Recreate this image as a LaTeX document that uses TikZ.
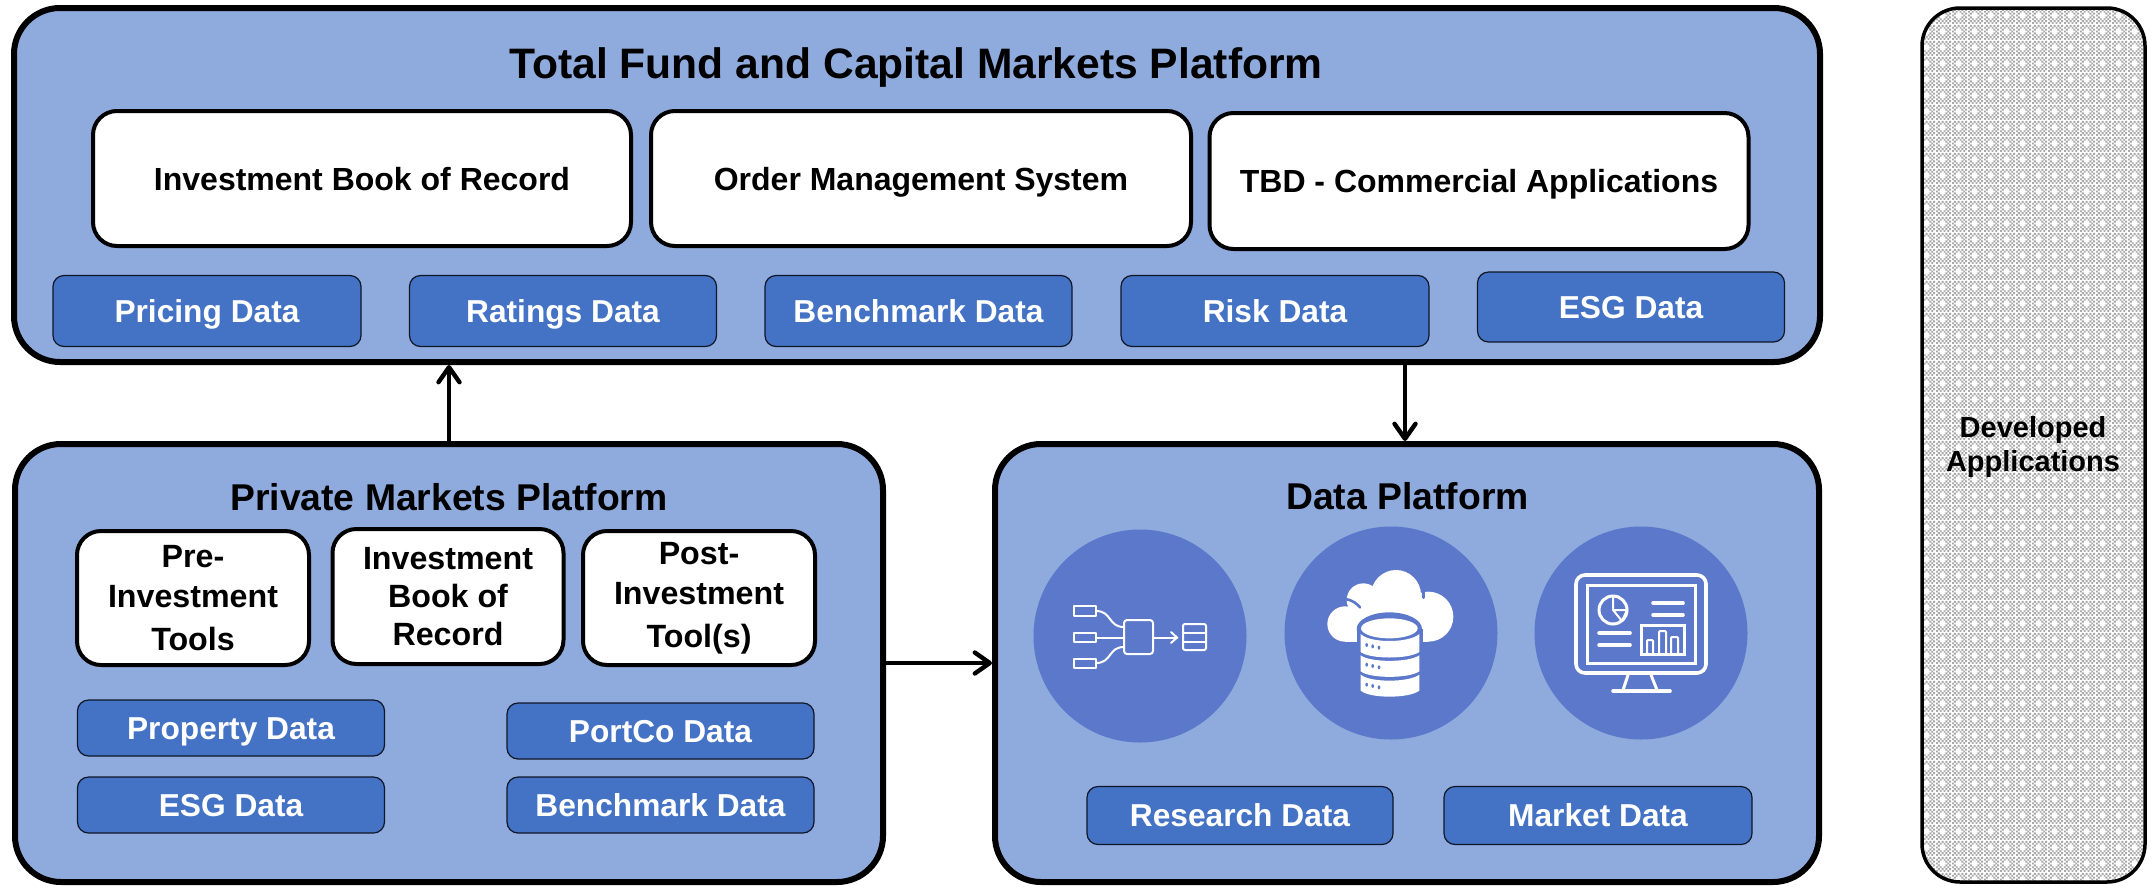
\documentclass[tikz,border=0pt]{standalone}
\usepackage{fontspec}
\setmainfont{Liberation Sans}
\usetikzlibrary{arrows.meta,patterns}
\definecolor{panelblue}{HTML}{8FAADC}
\definecolor{chipblue}{HTML}{4472C4}
\definecolor{discblue}{HTML}{5B78CB}
\pgfdeclarepatternformonly{fineweave}{\pgfpointorigin}{\pgfqpoint{16pt}{16pt}}{\pgfqpoint{16pt}{16pt}}{%
  \foreach \i in {0,...,7}{\foreach \j in {0,...,7}{%
    \pgfmathtruncatemacro{\keep}{(mod(\i+\j,2)==0) && !((\i==2&&\j==4)||(\i==4&&\j==4)||(\i==3&&\j==3)||(\i==3&&\j==5))}%
    \ifnum\keep=1\relax
      \pgfpathrectangle{\pgfqpoint{\numexpr2*\i\relax pt}{\numexpr2*\j\relax pt}}{\pgfqpoint{2pt}{2pt}}%
    \fi}}%
  \pgfusepath{fill}}
\tikzset{
  x=1pt,y=-1pt,
  panel/.style={draw=black,line width=6pt,fill=panelblue,rounded corners=46pt,outer sep=3pt},
  whitebox/.style={draw=black,line width=4pt,fill=white,rounded corners=24pt,align=center,outer sep=0pt,inner sep=0pt},
  whitewide/.style={whitebox,font=\fontsize{32}{38}\selectfont\bfseries,text height=23pt,text depth=0pt},
  whitetall/.style={whitebox,font=\fontsize{32.2}{38}\selectfont\bfseries},
  chip/.style={draw=black!80!chipblue,line width=1.2pt,fill=chipblue,rounded corners=11pt,text=white,outer sep=0pt,inner sep=0pt,
    font=\fontsize{31.7}{38}\selectfont\bfseries,text height=22.7pt,text depth=0pt},
  paneltitle/.style={font=\fontsize{37.3}{44}\selectfont\bfseries,text height=26.7pt,text depth=0pt,inner sep=0pt},
  flow/.style={draw=black,line width=4.4pt,-{Straight Barb[length=15pt,width=21pt,line width=4.4pt,round]}},
  disc/.style={fill=discblue,draw=none},
  icon/.style={draw=white,line width=2pt,fill=none,line cap=round},
  iconthick/.style={draw=white,line width=3pt,fill=none,line cap=round,line join=round},
}
\begin{document}
\begin{tikzpicture}
\useasboundingbox (0,0) rectangle (2152,887);
% panels
\node[panel,minimum width=1806pt,minimum height=354pt] (fund) at (917,185) {};
\node[panel,minimum width=868pt,minimum height=438pt] (private) at (449,663) {};
\node[panel,minimum width=824pt,minimum height=438pt] (data) at (1407,663) {};
\path[fill=white,rounded corners=38pt] (1922,8) rectangle (2145,882);
\path[pattern=fineweave,pattern color=black!33,rounded corners=38pt] (1922,8) rectangle (2145,882);
\draw[black,line width=3.5pt,rounded corners=38pt] (1922,8) rectangle (2145,882);
\node[font=\fontsize{29}{34}\selectfont\bfseries,align=center] (dev) at (2033,447) {Developed\\Applications};
% titles
\node[font=\fontsize{42.6}{48}\selectfont\bfseries,text height=30.5pt,text depth=0pt,inner sep=0pt] (t1) at (916,63) {Total Fund and Capital Markets Platform};
\node[paneltitle] (t2) at (449,497) {Private Markets Platform};
\node[paneltitle] (t3) at (1407.5,496) {Data Platform};
% top whites
\node[whitewide,minimum width=538pt,minimum height=135pt] (ibor) at (362,178.5) {Investment Book of Record};
\node[whitewide,minimum width=540pt,minimum height=135pt] (oms) at (921,178.5) {Order Management System};
\node[whitewide,minimum width=539pt,minimum height=136pt] (tbd) at (1479,181) {TBD - Commercial Applications};
% top chips
\node[chip,minimum width=308pt,minimum height=71pt] (c1) at (207,311) {Pricing Data};
\node[chip,minimum width=307pt,minimum height=71pt] (c2) at (563,311) {Ratings Data};
\node[chip,minimum width=307pt,minimum height=71pt] (c3) at (918.5,311) {Benchmark Data};
\node[chip,minimum width=308pt,minimum height=71pt] (c4) at (1275,311) {Risk Data};
\node[chip,minimum width=307pt,minimum height=70pt] (c5) at (1631,307) {ESG Data};
% private whites
\node[whitetall,minimum width=232pt,minimum height=134pt] (w1) at (193,598) {Pre-\\[2pt]Investment\\[5pt]Tools};
\node[whitetall,minimum width=231pt,minimum height=135pt] (w2) at (448,596.5) {Investment\\Book of\\Record};
\node[whitetall,minimum width=232pt,minimum height=134pt] (w3) at (699,598) {Post-\\[2pt]Investment\\[5pt]Tool(s)};
% private chips
\node[chip,minimum width=307pt,minimum height=56pt] (p1) at (231,728) {Property Data};
\node[chip,minimum width=307pt,minimum height=56pt] (p2) at (660.5,731) {PortCo Data};
\node[chip,minimum width=307pt,minimum height=56pt] (p3) at (231,805) {ESG Data};
\node[chip,minimum width=307pt,minimum height=56pt] (p4) at (660.5,805) {Benchmark Data};
% data chips
\node[chip,minimum width=306pt,minimum height=58pt] (d1) at (1240,815.5) {Research Data};
\node[chip,minimum width=308pt,minimum height=58pt] (d2) at (1598,815.5) {Market Data};
% discs
\fill[disc] (1140,636) circle (106.5);
\fill[disc] (1391,633) circle (106.5);
\fill[disc] (1641,633) circle (106.5);
% icon 1: sources, transform, store
\draw[icon,line join=round] (1074,606) rectangle (1096,616);
\draw[icon,line join=round] (1074,633) rectangle (1096,642);
\draw[icon,line join=round] (1074,659) rectangle (1096,668);
\draw[icon,rounded corners=3pt] (1124,620) rectangle (1153,654);
\draw[icon,rounded corners=2pt] (1183,624) rectangle (1206,650);
\draw[icon] (1183,633) -- (1206,633) (1183,642) -- (1206,642);
\draw[icon] (1096,611) .. controls (1112,611) and (1108,627) .. (1124,627);
\draw[icon] (1096,637.5) -- (1124,637.5);
\draw[icon] (1096,663) .. controls (1112,663) and (1108,647) .. (1124,647);
\draw[icon] (1153,637.5) -- (1177,637.5);
\draw[icon] (1171,632) -- (1177,637.5) -- (1171,643);
% icon 2: cloud database
\begin{scope}[shift={(1300,550)},scale=1/3]
  \fill[white] (135,222) circle (53) (190,150) circle (50) (288,135) circle (75) (385,200) circle (75);
  \fill[white] (135,170) rectangle (385,275);
  \draw[discblue,line width=2.6pt,line cap=round] (140,148) .. controls (155,150) and (170,160) .. (180,172);
  \draw[discblue,line width=2.6pt,line cap=round] (370,115) -- (370,143);
  \fill[discblue] (268,237) ellipse (98 and 50);
  \fill[discblue] (170,237) rectangle (368,285);
  \fill[white] (268,235) ellipse (85 and 30);
  \fill[white] (182,252) .. controls (210,280) and (326,280) .. (358,252) -- (358,306) .. controls (326,328) and (210,328) .. (182,306) -- cycle;
  \fill[white] (182,316) .. controls (210,338) and (326,338) .. (358,316) -- (358,364) .. controls (326,386) and (210,386) .. (182,364) -- cycle;
  \fill[white] (182,374) .. controls (210,398) and (326,398) .. (358,374) -- (358,422) .. controls (326,446) and (210,446) .. (182,422) -- cycle;
  \foreach \t in {0,59,119}{
    \fill[discblue] (200,285+\t) ellipse (4 and 6);
    \fill[discblue] (218,289+\t) ellipse (4 and 6);
    \fill[discblue] (237,293+\t) ellipse (4 and 6);
  }
\end{scope}
% icon 3: monitor dashboard
\draw[iconthick,rounded corners=9pt,line width=3.6pt] (1576,575) rectangle (1706,673);
\draw[iconthick,line cap=butt,line join=miter] (1587,585) rectangle (1695,663);
\draw[iconthick] (1628,675) -- (1623,690) (1651,675) -- (1657,690);
\draw[iconthick,line width=3.6pt] (1613,691) -- (1670,691);
\draw[iconthick] (1613,610) circle (14);
\draw[iconthick,line width=2pt] (1613,596) -- (1613,610) -- (1622,621) (1613,610) -- (1627,610) -- (1622,621);
\draw[iconthick,line width=3.6pt] (1653,603) -- (1683,603) (1653,615) -- (1683,615) (1599,633) -- (1630,633) (1599,645) -- (1630,645);
\draw[iconthick,line cap=butt,line join=miter] (1641,625) rectangle (1684,654);
\draw[iconthick,line width=2pt,rounded corners=1pt] (1647,654) -- (1647,640) -- (1653,640) -- (1653,654)
  (1659,654) -- (1659,631) -- (1666,631) -- (1666,654)
  (1671,654) -- (1671,637) -- (1678,637) -- (1678,654);
% connectors
\coordinate (upx) at (449,0);
\coordinate (dnx) at (1405,0);
\coordinate (rty) at (0,663);
\draw[flow] (upx |- private.north) -- (upx |- fund.south);
\draw[flow] (dnx |- fund.south) -- (dnx |- data.north);
\draw[flow] (private.east |- rty) -- (data.west |- rty);
\end{tikzpicture}
\end{document}
